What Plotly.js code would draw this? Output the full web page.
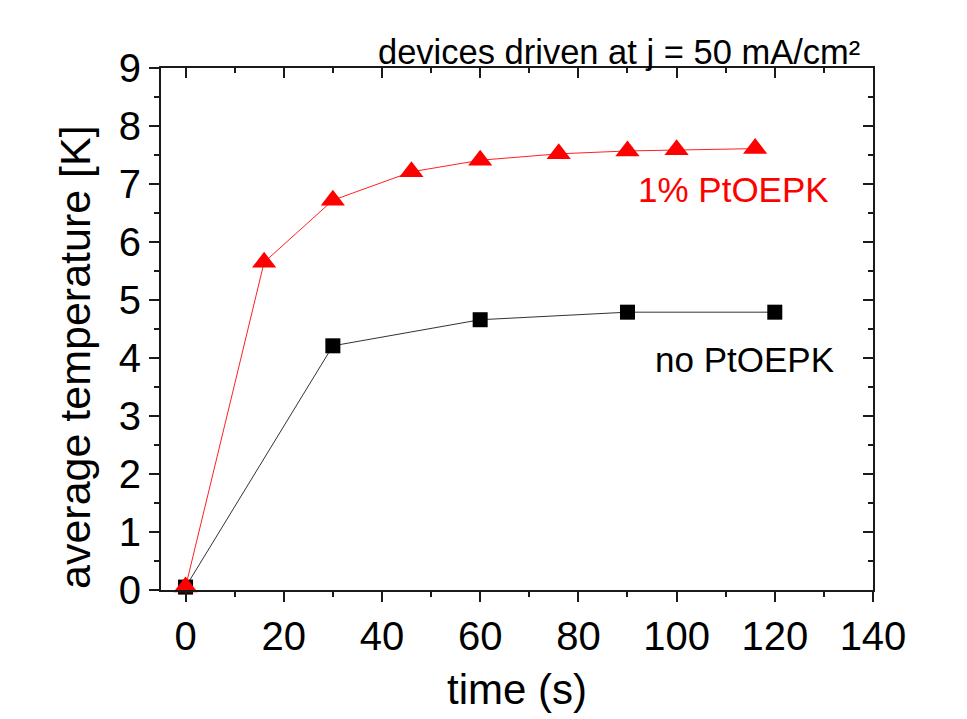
<!DOCTYPE html>
<html>
<head>
<meta charset="utf-8">
<script src="https://cdn.plot.ly/plotly-3.0.1.min.js"></script>
<style>html,body{margin:0;padding:0;background:#fff;}#chart{width:967px;height:719px;}</style>
</head>
<body>
<div id="chart"></div>
<script>
// data
const timePt = [0, 16, 30, 46, 60, 76, 90, 100, 116];
const tempPt = [0.05, 5.65, 6.72, 7.21, 7.41, 7.52, 7.57, 7.59, 7.61];
const timeNo = [0, 30, 60, 90, 120];
const tempNo = [0.05, 4.21, 4.66, 4.79, 4.79];
const labelPt = "1% PtOEPK";
const labelNo = "no PtOEPK";
const subtitle = "devices driven at j = 50 mA/cm²";
const xTitle = "time (s)";
const yTitle = "average temperature [K]";
const xRange = [-5, 140];
const yRange = [0, 9];

const FONT = "Liberation Sans, Arial, sans-serif";
const AX = "#1a1a1a";

const traces = [
  {x: timeNo, y: tempNo, mode: "lines+markers", type: "scatter",
   line: {color: "#333333", width: 1},
   marker: {symbol: "square", size: 15, color: "#000"}, showlegend: false, cliponaxis: false},
  {x: timePt, y: tempPt, mode: "lines+markers", type: "scatter",
   line: {color: "#ff2020", width: 1},
   marker: {symbol: "triangle-up", size: 21, color: "#ff0000"}, showlegend: false, cliponaxis: false},
  {x: [], y: [], xaxis: "x2", yaxis: "y2", type: "scatter", showlegend: false, hoverinfo: "skip"}
];

const baseAxis = {
  showgrid: false, zeroline: false, showline: true, linecolor: AX, linewidth: 2,
  tickcolor: AX, tickwidth: 2, ticklen: 10,
  tickfont: {family: FONT, size: 40, color: "#000"}
};

const layout = {
  width: 967, height: 719,
  margin: {l: 161, r: 94, t: 68, b: 129},
  paper_bgcolor: "#fff", plot_bgcolor: "#fff",
  font: {family: FONT, color: "#000"},
  xaxis: Object.assign({}, baseAxis, {
    range: xRange, tick0: 0, dtick: 20, ticks: "outside",
    minor: {ticks: "outside", dtick: 10, tick0: 0, ticklen: 5, tickwidth: 2, tickcolor: AX},
    title: {text: xTitle, font: {family: FONT, size: 42, color: "#000"}, standoff: 18}
  }),
  yaxis: Object.assign({}, baseAxis, {
    range: yRange, tick0: 0, dtick: 1, ticks: "outside",
    minor: {ticks: "outside", dtick: 0.5, tick0: 0, ticklen: 5, tickwidth: 2, tickcolor: AX}
  }),
  xaxis2: {
    overlaying: "x", side: "top", anchor: "y2", range: xRange, tick0: 0, dtick: 20,
    ticks: "inside", ticklen: 10, tickwidth: 2, tickcolor: AX, showticklabels: false,
    showgrid: false, zeroline: false, showline: true, linecolor: AX, linewidth: 2,
    minor: {ticks: "inside", dtick: 10, tick0: 0, ticklen: 5, tickwidth: 2, tickcolor: AX}
  },
  yaxis2: {
    overlaying: "y", side: "right", anchor: "x2", range: yRange, tick0: 0, dtick: 1,
    ticks: "inside", ticklen: 10, tickwidth: 2, tickcolor: AX, showticklabels: false,
    showgrid: false, zeroline: false, showline: true, linecolor: AX, linewidth: 2,
    minor: {ticks: "inside", dtick: 0.5, tick0: 0, ticklen: 5, tickwidth: 2, tickcolor: AX}
  },
  annotations: [
    {text: labelPt, x: 111.5, y: 6.9, xref: "x", yref: "y", showarrow: false,
     xanchor: "center", yanchor: "middle", font: {family: FONT, size: 35, color: "#ff0000"}},
    {text: labelNo, x: 113.8, y: 3.98, xref: "x", yref: "y", showarrow: false,
     xanchor: "center", yanchor: "middle", font: {family: FONT, size: 35, color: "#000"}},
    {text: subtitle, x: 862, y: 1, xref: "paper", yref: "paper", showarrow: false,
     xanchor: "right", yanchor: "bottom", yshift: -5, font: {family: FONT, size: 34.5, color: "#000"}},
    {text: yTitle, x: 0, y: 0.5, xref: "paper", yref: "paper", showarrow: false,
     xanchor: "center", yanchor: "middle", textangle: -90, xshift: -86, yshift: -28,
     font: {family: FONT, size: 43, color: "#000"}}
  ]
};
// subtitle x given in pixels -> convert to paper fraction
layout.annotations[2].x = (862 - 161) / (967 - 161 - 94);

Plotly.newPlot("chart", traces, layout, {staticPlot: true, displayModeBar: false});
</script>
</body>
</html>
